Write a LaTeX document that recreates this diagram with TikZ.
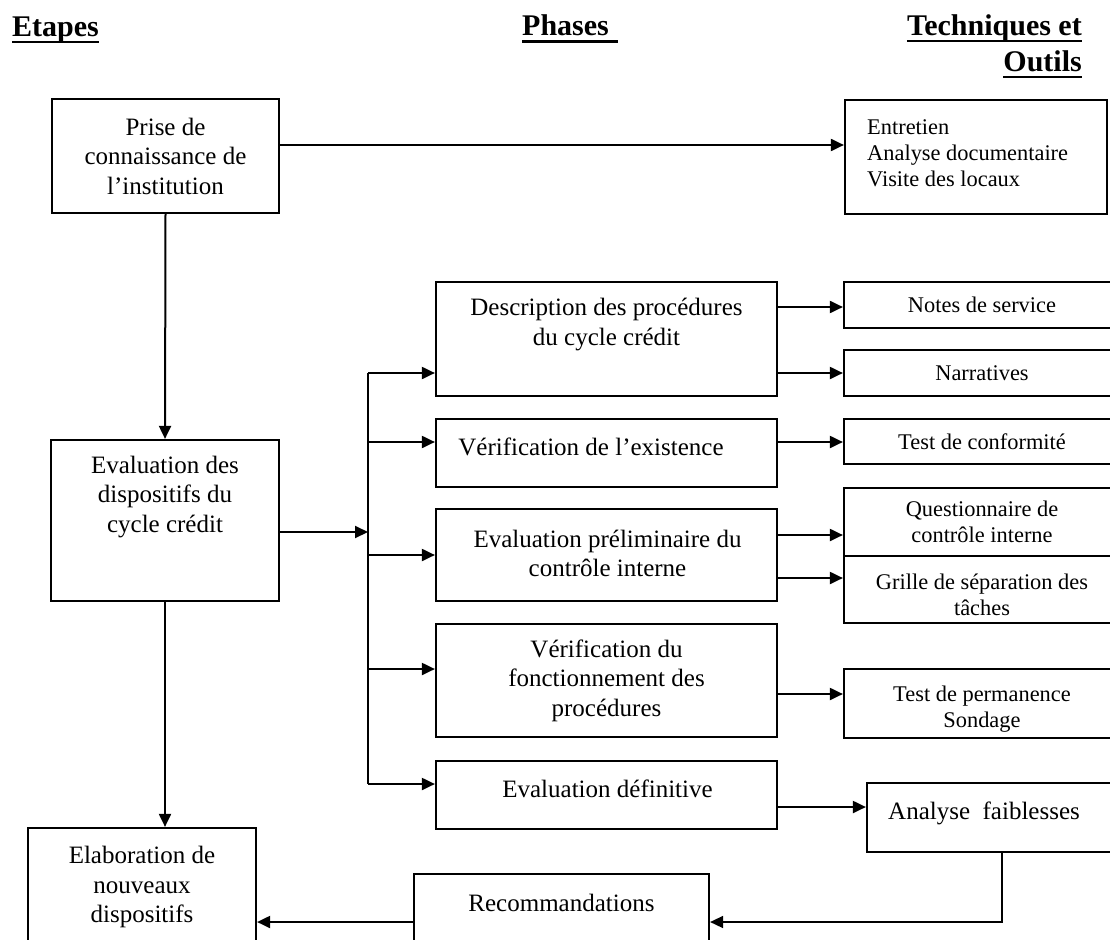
\documentclass[tikz,border=0pt]{standalone}
\usepackage{fontspec}
\setmainfont{Liberation Serif}
\usetikzlibrary{arrows.meta}
\newcommand\phfont{\fontsize{25}{29.5}\selectfont}
\newcommand\tofont{\fontsize{22.4}{26}\selectfont}
\newcommand\hdfont{\fontsize{30}{34}\selectfont\bfseries}
\begin{document}
\begin{tikzpicture}[x=1pt,y=-1pt,
  box/.style={draw,line width=2.2pt,inner sep=0pt,align=center},
  bigbox/.style={box,font=\phfont},
  smallbox/.style={box,font=\tofont,minimum width=276pt},
  txt/.style={inner sep=0pt,align=center,font=\phfont},
  hd/.style={inner sep=0pt,font=\hdfont},
  ul/.style={line width=2.4pt},
  conn/.style={line width=2pt},
  arr/.style={conn,-{Triangle[length=13pt,width=12pt]}}]
\useasboundingbox (0,0) rectangle (1110,939);

% headers
\node[hd,anchor=base west] (hEt) at (12,37) {Etapes};
\node[hd,anchor=base west] (hPh) at (522,36) {Phases};
\node[hd,anchor=base east] (hTe) at (1082,36) {Techniques et};
\node[hd,anchor=base east] (hOu) at (1082,72) {Outils};
\draw[ul] ([yshift=-5pt]hEt.base west) -- ([yshift=-5pt]hEt.base east);
\draw[ul] ([yshift=-5.5pt]hPh.base west) -- ([yshift=-5.5pt,xshift=9pt]hPh.base east);
\draw[ul] ([yshift=-5pt]hTe.base west) -- ([yshift=-5pt]hTe.base east);
\draw[ul] ([yshift=-5pt]hOu.base west) -- ([yshift=-5pt]hOu.base east);

% left column
\node[bigbox,minimum width=227pt,minimum height=114pt] (prise) at (165.5,156)
  {Prise de\\connaissance de\\l'institution};
\node[box,minimum width=228pt,minimum height=161pt] (eval) at (165,520.5) {};
\node[txt] (evalt) at (165,497) {Evaluation des\\dispositifs du\\cycle crédit};
\node[box,minimum width=228pt,minimum height=172pt] (elab) at (142,914) {};
\node[txt] (elabt) at (142,887) {Elaboration de\\nouveaux\\dispositifs};

% techniques box
\node[box,minimum width=262pt,minimum height=114pt] (tech) at (976,157) {};
\node[inner sep=0pt,align=left,font=\tofont,anchor=west] (techt) at (867,153)
  {Entretien\\Analyse documentaire\\Visite des locaux};

% phases column
\node[box,minimum width=341pt,minimum height=114pt] (desc) at (606.5,339) {};
\node[txt] (desct) at (606.5,324.5) {Description des procédures\\du cycle crédit};
\node[box,minimum width=341pt,minimum height=68pt] (exist) at (606.5,453) {};
\node[txt] (existt) at (591,447) {Vérification de l'existence};
\node[box,minimum width=341pt,minimum height=92pt] (prelim) at (606.5,555) {};
\node[txt] (prelimt) at (607.5,553.5) {Evaluation préliminaire du\\contrôle interne};
\node[bigbox,minimum width=341pt,minimum height=113pt] (fonct) at (606.5,680.5)
  {Vérification du\\fonctionnement des\\procédures};
\node[box,minimum width=341pt,minimum height=68pt] (defin) at (606.5,795) {};
\node[txt] (defint) at (607.5,789) {Evaluation définitive};
\node[box,minimum width=295pt,minimum height=126pt] (recom) at (561.5,937) {};
\node[txt] (recomt) at (561.5,903) {Recommandations};

% tools column
\node[smallbox,minimum height=46pt] (notes) at (982,305) {Notes de service};
\node[smallbox,minimum height=46pt] (narr) at (982,373) {Narratives};
\node[smallbox,minimum height=45pt] (conf) at (982,441.5) {Test de conformité};
\node[smallbox,minimum height=68pt] (quest) at (982,522) {Questionnaire de\\contrôle interne};
\node[smallbox,minimum height=67pt] (grille) at (982,589.5) {};
\node[inner sep=0pt,align=center,font=\tofont] (grillet) at (982,595) {Grille de séparation des\\tâches};
\node[smallbox,minimum height=69pt] (perm) at (982,703.5) {};
\node[inner sep=0pt,align=center,font=\tofont] (permt) at (982,709.5) {Test de permanence\\Sondage};
\node[box,minimum width=253pt,minimum height=69pt] (analyse) at (993.5,817.5) {};
\node[inner sep=0pt,font=\phfont,anchor=west] (analyset) at (888,813) {Analyse\ \ faiblesses};

% connectors
\draw[arr] ([yshift=11pt]prise.east) -- ([yshift=11pt]prise.east -| tech.west);
\draw[arr] (prise.south) -- (eval.north);
\draw[arr] (eval.south) -- (eval.south |- elab.north);

\coordinate (bus) at (368,532);
\coordinate (bustop) at (368,373);
\coordinate (busbot) at (368,784);
\draw[arr] ([yshift=-11.5pt]eval.east) -- (bus);
\draw[conn] (bustop) -- (busbot);
\draw[arr] (bustop) -- (bustop -| desc.west);
\draw[arr] ([yshift=11pt]exist.west -| bus) -- ([yshift=11pt]exist.west);
\draw[arr] (prelim.west -| bus) -- (prelim.west);
\draw[arr] ([yshift=11.5pt]fonct.west -| bus) -- ([yshift=11.5pt]fonct.west);
\draw[arr] (busbot) -- (busbot -| defin.west);

\draw[arr] ([yshift=32pt]desc.east) -- ([yshift=32pt]desc.east -| notes.west);
\draw[arr] ([yshift=-34pt]desc.east) -- ([yshift=-34pt]desc.east -| narr.west);
\draw[arr] ([yshift=11pt]exist.east) -- ([yshift=11pt]exist.east -| conf.west);
\draw[arr] ([yshift=20pt]prelim.east) -- ([yshift=20pt]prelim.east -| quest.west);
\draw[arr] ([yshift=-23pt]prelim.east) -- ([yshift=-23pt]prelim.east -| grille.west);
\draw[arr] ([yshift=-13.5pt]fonct.east) -- ([yshift=-13.5pt]fonct.east -| perm.west);
\draw[arr] ([yshift=-12pt]defin.east) -- ([yshift=-12pt]defin.east -| analyse.west);

\draw[line width=1.6pt,-{Triangle[length=13pt,width=12pt]}]
  ([xshift=8.5pt]analyse.south) |- ([yshift=15pt]recom.east);
\draw[arr] ([yshift=15pt]recom.west) -- ([yshift=15pt]recom.west -| elab.east);
\end{tikzpicture}
\end{document}
